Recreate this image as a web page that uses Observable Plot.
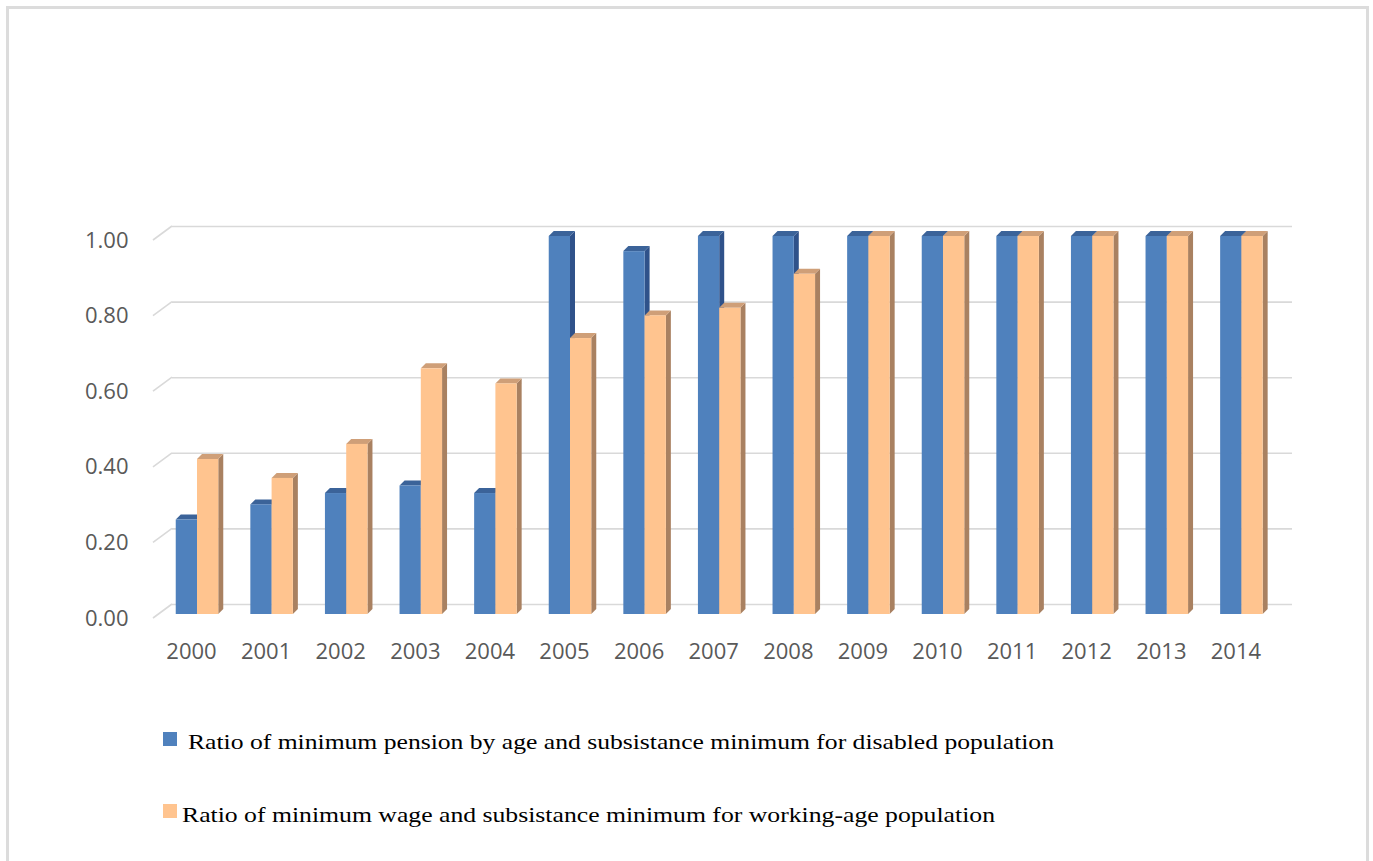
<!DOCTYPE html>
<html>
<head>
<meta charset="utf-8">
<script src="https://cdn.jsdelivr.net/npm/d3@7"></script>
<script src="https://cdn.jsdelivr.net/npm/@observablehq/plot@0.6"></script>
<style>
  html, body { margin: 0; padding: 0; background: #fff; }
  #wrap { position: relative; width: 1373px; height: 861px; overflow: hidden; }
  #frame { position: absolute; left: 6px; top: 6px; width: 1357px; height: 900px;
           border: 3px solid #DCDCDC; box-sizing: content-box; }
  #chart { position: absolute; left: 0; top: 0; }
  #legend { position: absolute; left: 0; top: 700px; }
</style>
</head>
<body>
<div id="wrap">
  <div id="frame"></div>
  <div id="chart"></div>
  <svg id="legend" width="1373" height="161"></svg>
</div>
<script>
// ---- data ----
const years = [2000, 2001, 2002, 2003, 2004, 2005, 2006, 2007, 2008, 2009, 2010, 2011, 2012, 2013, 2014];
const pension = [0.25, 0.29, 0.32, 0.34, 0.32, 1.00, 0.96, 1.00, 1.00, 1.00, 1.00, 1.00, 1.00, 1.00, 1.00];
const wage    = [0.41, 0.36, 0.45, 0.65, 0.61, 0.73, 0.79, 0.81, 0.90, 1.00, 1.00, 1.00, 1.00, 1.00, 1.00];
const yTicks  = [0, 0.2, 0.4, 0.6, 0.8, 1.0];
const seriesNames = [
  "Ratio of minimum pension by age and subsistance minimum for disabled population",
  "Ratio of minimum wage and subsistance minimum for working-age population"
];

// ---- styles ----
const colors = [
  {front: "#4F81BD", side: "#2F528A", top: "#3B6399"},
  {front: "#FFC48F", side: "#A98161", top: "#CF9F78"}
];
const DEPTH = 5;      // 3D depth of bars in px
const BAR_W = 0.285;  // bar width in year units
const gridColor = "#D9D9D9";

const pensionRows = years.map((year, i) => ({year, value: pension[i]}));
const wageRows = years.map((year, i) => ({year, value: wage[i]}));

function bars3d(rows, offset, c) {
  return Plot.rectY(rows, {
    x1: d => d.year + offset * BAR_W,
    x2: d => d.year + (offset + 1) * BAR_W,
    y1: 0,
    y2: "value",
    fill: c.front,
    inset: 0,
    render(index, scales, values, dimensions, context, next) {
      const front = next(index, scales, values, dimensions, context);
      const g = d3.create("svg:g");
      for (const i of index) {
        const xl = Math.min(values.x1[i], values.x2[i]);
        const xr = Math.max(values.x1[i], values.x2[i]);
        const yb = Math.max(values.y1[i], values.y2[i]);
        const yt = Math.min(values.y1[i], values.y2[i]);
        g.append("path")
          .attr("d", `M${xr},${yb}L${xr + DEPTH},${yb - DEPTH}L${xr + DEPTH},${yt - DEPTH}L${xr},${yt}Z`)
          .attr("fill", c.side);
        g.append("path")
          .attr("d", `M${xl},${yt}L${xl + DEPTH},${yt - DEPTH}L${xr + DEPTH},${yt - DEPTH}L${xr},${yt}Z`)
          .attr("fill", c.top);
      }
      g.append(() => front);
      return g.node();
    }
  });
}

const plot = Plot.plot({
  width: 1373,
  height: 700,
  marginTop: 236,
  marginBottom: 86,
  marginLeft: 172,
  marginRight: 81,
  style: {fontFamily: "'Open Sans', sans-serif", background: "transparent"},
  x: {type: "linear", domain: [2000, 2014], range: [197, 1241.4]},
  y: {domain: [0, 1], label: null},
  marks: [
    // back-wall gridlines
    Plot.ruleY(yTicks, {dy: -10, stroke: gridColor, strokeWidth: 1.6}),
    // floor/side diagonals
    Plot.ruleY(yTicks, {
      stroke: gridColor,
      render(index, scales, values, dimensions) {
        const g = d3.create("svg:g").attr("stroke", gridColor).attr("stroke-width", 1.6);
        for (const i of index) {
          const y = values.y[i];
          g.append("line")
            .attr("x1", dimensions.marginLeft - 19).attr("y1", y + 4)
            .attr("x2", dimensions.marginLeft).attr("y2", y - 10);
        }
        return g.node();
      }
    }),
    bars3d(pensionRows, -1, colors[0]),
    bars3d(wageRows, 0, colors[1]),
    Plot.axisY(yTicks, {
      tickSize: 0, tickPadding: 44, dy: 4, label: null,
      tickFormat: d3.format(".2f"), fontSize: 22, fill: "#595959"
    }),
    Plot.axisX(years, {
      tickSize: 0, tickPadding: 29, dx: -6, label: null,
      tickFormat: d => String(d), fontSize: 22, fill: "#595959"
    })
  ]
});
document.getElementById("chart").append(plot);

// ---- legend ----
const legend = d3.select("#legend");
const legendItems = [
  {name: seriesNames[0], color: colors[0].front, sqY: 32, textX: 188, baseY: 49, len: 866},
  {name: seriesNames[1], color: colors[1].front, sqY: 104, textX: 182, baseY: 122, len: 813}
];
for (const it of legendItems) {
  legend.append("rect").attr("x", 163).attr("y", it.sqY).attr("width", 14).attr("height", 14).attr("fill", it.color);
  legend.append("text").attr("x", it.textX).attr("y", it.baseY)
    .attr("font-family", "'Liberation Serif', 'Times New Roman', serif")
    .attr("font-size", 22).attr("fill", "#000")
    .attr("textLength", it.len).attr("lengthAdjust", "spacingAndGlyphs")
    .text(it.name);
}
</script>
</body>
</html>
